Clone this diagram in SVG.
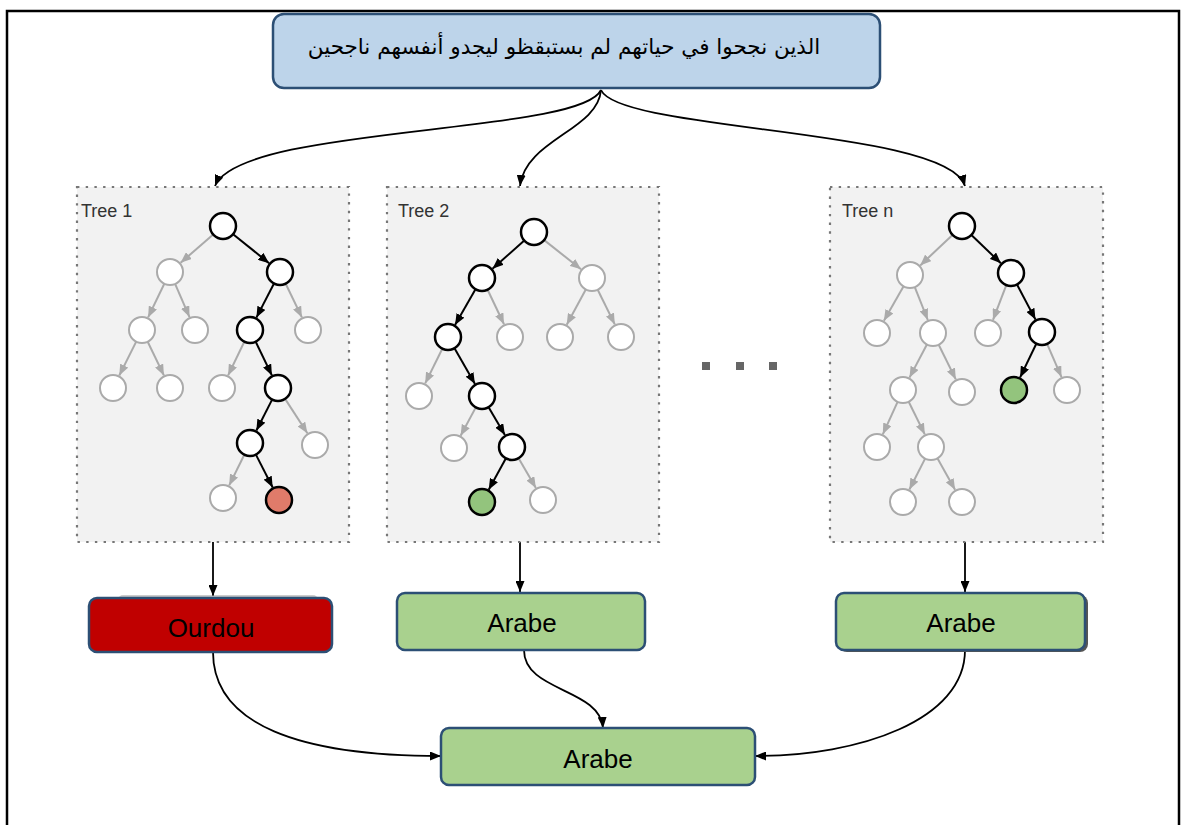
<svg xmlns="http://www.w3.org/2000/svg" width="1181" height="825" viewBox="0 0 1181 825">
<style>
.frame{fill:none;stroke:#000;stroke-width:2.5}
.tree{fill:#f2f2f2;stroke:#777;stroke-width:2.2;stroke-dasharray:2.4 6.3}
.tl{font-family:"Liberation Sans",Arial,sans-serif;font-size:18px;fill:#333}
.n{fill:#fff;stroke:#aaa;stroke-width:2}
.nb{fill:#fff;stroke:#000;stroke-width:2.5}
.red{fill:#e07b6a;stroke:#000;stroke-width:2.5}
.grn{fill:#93c47d;stroke:#000;stroke-width:2.5}
.eb{stroke:#000;stroke-width:2;fill:none;marker-end:url(#ab)}
.eg{stroke:#aaa;stroke-width:2;fill:none;marker-end:url(#ag)}
.con{stroke:#000;stroke-width:1.8;fill:none;marker-end:url(#ac)}
.box{stroke:#2c4f75;stroke-width:2.5}
.bt{font-family:"Liberation Sans",Arial,sans-serif;font-size:26px;fill:#000;text-anchor:middle}
.dot{fill:#666}
</style>
<defs>
<marker id="ab" markerUnits="userSpaceOnUse" markerWidth="11" markerHeight="9" refX="11" refY="4.5" orient="auto"><path d="M0,0 L11,4.5 L0,9 z" fill="#000"/></marker>
<marker id="ag" markerUnits="userSpaceOnUse" markerWidth="11" markerHeight="9" refX="11" refY="4.5" orient="auto"><path d="M0,0 L11,4.5 L0,9 z" fill="#aaa"/></marker>
<marker id="ac" markerUnits="userSpaceOnUse" markerWidth="11" markerHeight="9" refX="11" refY="4.5" orient="auto"><path d="M0,0 L11,4.5 L0,9 z" fill="#000"/></marker>
</defs>
<rect width="1181" height="825" fill="#fff"/>
<rect class="frame" x="7" y="11" width="1172" height="830"/>

<g id="connectors">
<path class="con" d="M601,90 C580,135 240,125 215,186"/>
<path class="con" d="M601,90 C598,130 525,140 520,186"/>
<path class="con" d="M601,90 C620,132 948,128 965,186"/>
<path class="con" d="M213,542 L213,596"/>
<path class="con" d="M520,542 L520,592"/>
<path class="con" d="M965,542 L965,592"/>
<path class="con" d="M213,652 C213,725 300,756 441,756"/>
<path class="con" d="M524,650 C524,692 600,688 603,728"/>
<path class="con" d="M965,650 C965,720 860,756 755,756"/>
</g>

<g id="top">
<rect class="box" x="273" y="14" width="607" height="74" rx="11" fill="#bdd4ea"/>
<text x="564" y="54" font-family="'DejaVu Sans','Noto Sans',sans-serif" font-size="21.5" text-anchor="middle" direction="rtl" fill="#000">الذين نجحوا في حياتهم لم بستبقظو ليجدو  أنفسهم ناجحين</text>
</g>

<g id="tree1">
<rect class="tree" x="77" y="187" width="272" height="355"/>
<text class="tl" x="81" y="217">Tree 1</text>
<line class="eb" x1="233.1" y1="234.2" x2="269.1" y2="263.2"/>
<line class="eb" x1="274" y1="283.5" x2="256.4" y2="317.6"/>
<line class="eb" x1="255.7" y1="341.7" x2="271.9" y2="375.4"/>
<line class="eb" x1="272.1" y1="399.6" x2="256.4" y2="430.5"/>
<line class="eb" x1="255.9" y1="454.6" x2="272.7" y2="487.5"/>
<line class="eg" x1="213.2" y1="234.5" x2="180.6" y2="262.8"/>
<line class="eg" x1="164.3" y1="283.7" x2="148.1" y2="317.4"/>
<line class="eg" x1="175.1" y1="283.9" x2="189.5" y2="317.1"/>
<line class="eg" x1="136.2" y1="341.6" x2="119.3" y2="375.5"/>
<line class="eg" x1="147.7" y1="341.7" x2="163.9" y2="375.4"/>
<line class="eg" x1="285.7" y1="283.7" x2="301.9" y2="317.4"/>
<line class="eg" x1="244.3" y1="341.7" x2="228.1" y2="375.4"/>
<line class="eg" x1="285.1" y1="398.9" x2="307.4" y2="433.3"/>
<line class="eg" x1="244.3" y1="454.7" x2="229.2" y2="485.4"/>
<circle class="nb" cx="223" cy="226" r="13"/>
<circle class="nb" cx="280" cy="272" r="13"/>
<circle class="n" cx="170" cy="272" r="13"/>
<circle class="n" cx="142" cy="330" r="13"/>
<circle class="n" cx="195" cy="330" r="13"/>
<circle class="nb" cx="250" cy="330" r="13"/>
<circle class="n" cx="308" cy="330" r="13"/>
<circle class="n" cx="113" cy="388" r="13"/>
<circle class="n" cx="170" cy="388" r="13"/>
<circle class="n" cx="222" cy="388" r="13"/>
<circle class="nb" cx="278" cy="388" r="13"/>
<circle class="nb" cx="250" cy="443" r="13"/>
<circle class="n" cx="315" cy="445" r="13"/>
<circle class="n" cx="223" cy="498" r="13"/>
<circle class="red" cx="279" cy="500" r="13"/>
</g>

<g id="tree2">
<rect class="tree" x="387" y="187" width="272" height="355"/>
<text class="tl" x="398" y="217">Tree 2</text>
<line class="eb" x1="524.3" y1="240.6" x2="492.5" y2="268.7"/>
<line class="eb" x1="475.5" y1="289.3" x2="455" y2="324.9"/>
<line class="eb" x1="454.5" y1="348.3" x2="475" y2="383.9"/>
<line class="eb" x1="488.6" y1="407.2" x2="504.9" y2="434.9"/>
<line class="eb" x1="505.8" y1="458.4" x2="488.7" y2="489.7"/>
<line class="eg" x1="544.2" y1="240.1" x2="581" y2="269.3"/>
<line class="eg" x1="585.8" y1="289.4" x2="566.7" y2="324.7"/>
<line class="eg" x1="597.7" y1="289.7" x2="614.8" y2="324.4"/>
<line class="eg" x1="487.6" y1="289.8" x2="504" y2="324.3"/>
<line class="eg" x1="442.3" y1="348.7" x2="425.2" y2="383.4"/>
<line class="eg" x1="475.8" y1="407.4" x2="460.6" y2="435.7"/>
<line class="eg" x1="518.6" y1="458.2" x2="535.9" y2="487.9"/>
<circle class="nb" cx="534" cy="232" r="13"/>
<circle class="nb" cx="482" cy="278" r="13"/>
<circle class="n" cx="592" cy="278" r="13"/>
<circle class="nb" cx="448" cy="337" r="13"/>
<circle class="n" cx="510" cy="337" r="13"/>
<circle class="n" cx="560" cy="337" r="13"/>
<circle class="n" cx="621" cy="337" r="13"/>
<circle class="n" cx="419" cy="396" r="13"/>
<circle class="nb" cx="482" cy="396" r="13"/>
<circle class="n" cx="454" cy="448" r="13"/>
<circle class="nb" cx="512" cy="447" r="13"/>
<circle class="grn" cx="482" cy="502" r="13"/>
<circle class="n" cx="543" cy="500" r="13"/>
</g>

<g id="ellipsis">
<rect class="dot" x="702" y="362" width="8" height="8"/>
<rect class="dot" x="736" y="362" width="8" height="8"/>
<rect class="dot" x="769" y="362" width="8" height="8"/>
</g>

<g id="treen">
<rect class="tree" x="830" y="187" width="273" height="355"/>
<text class="tl" x="842" y="217">Tree n</text>
<line class="eb" x1="971.4" y1="235" x2="1000.9" y2="263.3"/>
<line class="eb" x1="1017" y1="284.5" x2="1035.5" y2="319.6"/>
<line class="eb" x1="1036.3" y1="343.7" x2="1020.1" y2="377.4"/>
<line class="eg" x1="952.5" y1="234.9" x2="920.2" y2="265.4"/>
<line class="eg" x1="903.6" y1="286.3" x2="883.9" y2="320.8"/>
<line class="eg" x1="914.8" y1="287.1" x2="927.8" y2="320"/>
<line class="eg" x1="1006.3" y1="285.1" x2="993" y2="319.9"/>
<line class="eg" x1="1047.1" y1="343.9" x2="1061.5" y2="377.1"/>
<line class="eg" x1="926.9" y1="344.5" x2="909.5" y2="377.6"/>
<line class="eg" x1="938.7" y1="344.7" x2="955.8" y2="379.4"/>
<line class="eg" x1="897.6" y1="401.8" x2="882.8" y2="434.3"/>
<line class="eg" x1="908.7" y1="401.7" x2="924.8" y2="434.4"/>
<line class="eg" x1="925.1" y1="458.6" x2="909.4" y2="489.5"/>
<line class="eg" x1="937.4" y1="458.3" x2="955.1" y2="489.8"/>
<circle class="nb" cx="962" cy="226" r="13"/>
<circle class="n" cx="910" cy="275" r="13"/>
<circle class="nb" cx="1011" cy="273" r="13"/>
<circle class="n" cx="877" cy="333" r="13"/>
<circle class="n" cx="933" cy="333" r="13"/>
<circle class="n" cx="988" cy="333" r="13"/>
<circle class="nb" cx="1042" cy="332" r="13"/>
<circle class="n" cx="903" cy="390" r="13"/>
<circle class="n" cx="962" cy="392" r="13"/>
<circle class="grn" cx="1014" cy="390" r="13"/>
<circle class="n" cx="1067" cy="390" r="13"/>
<circle class="n" cx="877" cy="447" r="13"/>
<circle class="n" cx="931" cy="447" r="13"/>
<circle class="n" cx="903" cy="502" r="13"/>
<circle class="n" cx="962" cy="502" r="13"/>
</g>

<g id="out1">
<rect x="118" y="595" width="200" height="10" rx="5" fill="#999" opacity="0.5"/>
<rect class="box" x="89" y="598" width="243" height="54" rx="8" fill="#c00000"/>
<text class="bt" x="211" y="637">Ourdou</text>
</g>
<g id="out2">
<rect class="box" x="397" y="593" width="248" height="57" rx="8" fill="#a9d18e"/>
<text class="bt" x="522" y="632">Arabe</text>
</g>
<g id="outn">
<rect x="839" y="595" width="249" height="57" rx="8" fill="#555"/>
<rect class="box" x="836" y="593" width="249" height="57" rx="8" fill="#a9d18e"/>
<text class="bt" x="961" y="632">Arabe</text>
</g>
<g id="final">
<rect class="box" x="441" y="728" width="314" height="57" rx="8" fill="#a9d18e"/>
<text class="bt" x="598" y="768">Arabe</text>
</g>
</svg>
